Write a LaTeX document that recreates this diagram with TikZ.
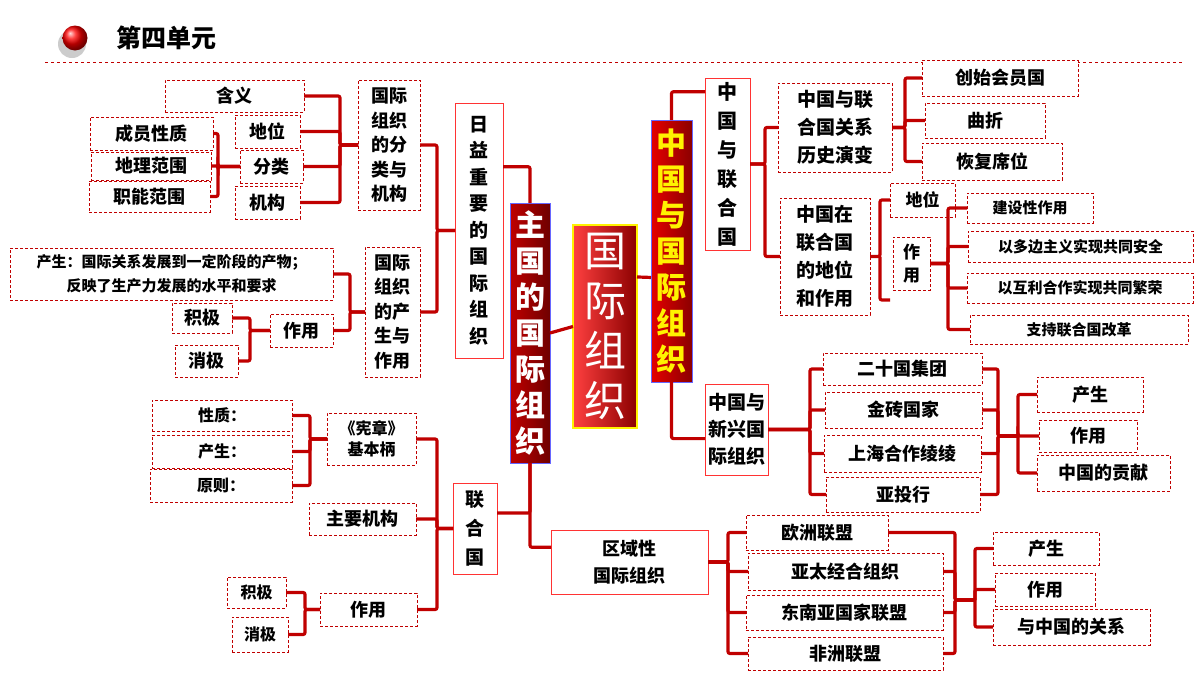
\documentclass[tikz,border=0pt]{standalone}
\usepackage{fontspec}
\setmainfont{Noto Sans CJK SC}
\usetikzlibrary{calc,shadows}
\definecolor{lr}{HTML}{C00000}
\definecolor{dr}{HTML}{8B0000}
\tikzset{
 db/.style={draw=lr,densely dashed,line width=0.7pt,fill=white,inner sep=0pt,outer sep=0pt,align=center,font=\bfseries\fontsize{18}{22}\selectfont},
 sb/.style={draw=red!80,line width=1pt,fill=white,inner sep=0pt,outer sep=0pt,align=center,font=\bfseries\fontsize{18}{22}\selectfont},
 conn/.style={draw=lr,line width=3.2pt,rounded corners=2pt},
}
\newcommand\B[7][db]{\node[#1,minimum width={#5-#3},minimum height={#6-#4}] (#2) at ({(#3+#5)/2},{(#4+#6)/2}) {#7};}
\newcommand\brL[3]{\foreach \ch in {#3}{\draw[conn] (\ch.east) -| ([xshift=-#2]#1.west) -- (#1.west);}}
\newcommand\brR[3]{\foreach \ch in {#3}{\draw[conn] (#1.east) -- ([xshift=#2]#1.east) |- (\ch.west);}}
\newcommand\fs[2]{\fontsize{#1}{#2}\selectfont}
\begin{document}
\begin{tikzpicture}[x=1pt,y=-1pt]
\useasboundingbox[fill=white] (0,0) rectangle (1200,675);
% title
\fill[gray!40] (72,44) circle (14);
\shade[ball color=red] (75,38) circle (12.5);
\node[font=\bfseries\fs{25}{27},anchor=west] (title) at (113,38) {第四单元};
\coordinate (dl1) at (45,62); \coordinate (dl2) at (1182,62);
\draw[lr,dashed,line width=0.7pt] (dl1) -- (dl2);

% center
\B[sb,draw=yellow,line width=2.5pt,left color=red!75,right color=dr,text=white,font=\fs{42}{50}]{gj}{573}{225}{637}{428}{国\\际\\组\\织}
\B[sb,draw=blue!60,line width=1pt,left color=lr,right color=dr!80!black,text=white,font=\bfseries\fs{30}{36}]{zg}{510}{203}{550}{463}{主\\国\\的\\国\\际\\组\\织}
\B[sb,draw=blue!60,line width=1pt,left color=red!90!black,right color=dr,text=yellow,font=\bfseries\fs{30}{36}]{zgi}{651}{120}{692}{382}{中\\国\\与\\国\\际\\组\\织}

% left top
\B[sb,font=\bfseries\fs{19}{26.5}]{ry}{455}{103}{503}{358}{日\\益\\重\\要\\的\\国\\际\\组\\织}
\B[db,font=\bfseries\fs{18}{24.5}]{fl}{358}{80}{420}{210}{国际\\组织\\的分\\类与\\机构}
\B[db,font=\bfseries\fs{18}{24.5}]{cs}{365}{247}{420}{377}{国际\\组织\\的产\\生与\\作用}
\B{hy}{165}{80}{304}{112}{含义}
\B{dw}{235}{115}{300}{148}{地位}
\B{fc}{240}{150}{303}{183}{分类}
\B{jg}{235}{186}{300}{219}{机构}
\B{cy}{90}{117}{213}{150}{成员性质}
\B{dl}{91}{152}{211}{180}{地理范围}
\B{zn}{89}{181}{210}{212}{职能范围}
\B[db,font=\bfseries\fs{15}{24}]{csx}{10}{248}{333}{300}{产生：国际关系发展到一定阶段的产物；\\反映了生产力发展的水平和要求}
\B{jj1}{172}{303}{232}{333}{积极}
\B{xj1}{175}{345}{238}{377}{消极}
\B{zy1}{270}{314}{333}{347}{作用}

% left bottom
\B[sb,font=\bfseries\fs{19}{29}]{lhg}{453}{483}{497}{574}{联\\合\\国}
\B[db,font=\bfseries\fs{16}{21}]{xz}{327}{413}{416}{465}{《宪章》\\基本柄}
\B[db,font=\bfseries\fs{16}{20}]{xzh}{152}{400}{292}{431}{性质：}
\B[db,font=\bfseries\fs{16}{20}]{csh}{152}{435}{292}{468}{产生：}
\B[db,font=\bfseries\fs{16}{20}]{yz}{150}{469}{292}{502}{原则：}
\B{zyjg}{309}{503}{416}{535}{主要机构}
\B{zy2}{320}{593}{417}{626}{作用}
\B[db,font=\bfseries\fs{16}{20}]{jj2}{227}{577}{286}{608}{积极}
\B[db,font=\bfseries\fs{16}{20}]{xj2}{232}{617}{288}{652}{消极}

% bottom middle
\B[sb,font=\bfseries\fs{18}{27}]{qy}{551}{530}{708}{594}{区域性\\国际组织}
\B{eu}{746}{515}{888}{550}{欧洲联盟}
\B{ap}{748}{553}{943}{590}{亚太经合组织}
\B{as}{746}{595}{943}{630}{东南亚国家联盟}
\B{af}{748}{637}{943}{670}{非洲联盟}
\B{q1}{993}{532}{1099}{565}{产生}
\B{q2}{995}{573}{1095}{606}{作用}
\B{q3}{993}{609}{1150}{645}{与中国的关系}

% right top
\B[sb,font=\bfseries\fs{20}{29}]{zl}{705}{78}{750}{250}{中\\国\\与\\联\\合\\国}
\B[db,font=\bfseries\fs{19}{28}]{ls}{778}{83}{892}{172}{中国与联\\合国关系\\历史演变}
\B{h1}{922}{60}{1078}{96}{创始会员国}
\B{h2}{925}{103}{1045}{138}{曲折}
\B{h3}{922}{143}{1062}{180}{恢复席位}
\B[db,font=\bfseries\fs{19}{28}]{dz}{780}{198}{870}{315}{中国在\\联合国\\的地位\\和作用}
\B[db,font=\bfseries\fs{17}{20}]{dw2}{890}{183}{955}{217}{地位}
\B[db,font=\bfseries\fs{17}{23}]{zy3}{893}{237}{930}{290}{作\\用}
\B[db,font=\bfseries\fs{15}{18}]{r1}{967}{193}{1093}{223}{建设性作用}
\B[db,font=\bfseries\fs{15}{18}]{r2}{968}{231}{1193}{262}{以多边主义实现共同安全}
\B[db,font=\bfseries\fs{15}{18}]{r3}{967}{273}{1193}{303}{以互利合作实现共同繁荣}
\B[db,font=\bfseries\fs{15}{18}]{r4}{970}{315}{1188}{344}{支持联合国改革}

% right middle
\B[sb,font=\bfseries\fs{19}{27}]{xx}{705}{384}{768}{475}{中国与\\新兴国\\际组织}
\B{g1}{823}{353}{982}{385}{二十国集团}
\B{g2}{825}{392}{982}{428}{金砖国家}
\B{g3}{824}{435}{981}{472}{上海合作绫绫}
\B{g4}{826}{477}{980}{512}{亚投行}
\B{s1}{1037}{377}{1143}{412}{产生}
\B{s2}{1039}{420}{1137}{452}{作用}
\B{s3}{1037}{455}{1170}{491}{中国的贡献}

% connectors
\brL{fl}{18pt}{hy,dw,fc,jg}
\brL{fc}{22pt}{cy,dl,zn}
\brR{fl}{17pt}{ry}
\brR{cs}{17pt}{ry}
\brL{cs}{15pt}{csx,zy1}
\brL{zy1}{20pt}{jj1,xj1}
\draw[conn] ($(ry.north east)!0.25!(ry.south east)$) -| (zg.north);
\draw[conn] (zg.east) -- (gj.west);
\draw[conn] ($(gj.north east)!0.256!(gj.south east)$) -- ($(zgi.north west)!0.601!(zgi.south west)$);
\draw[conn] (zgi.north) |- ($(zl.north west)!0.08!(zl.south west)$);
\draw[conn] (zgi.south) |- ($(xx.north west)!0.6!(xx.south west)$);
\draw[conn] (zg.south) |- ($(qy.north west)!0.27!(qy.south west)$);
\draw[conn] ($(lhg.north east)!0.33!(lhg.south east)$) -| (zg.south);
\brL{lhg}{16pt}{xz,zyjg,zy2}
\brL{xz}{17pt}{xzh,csh,yz}
\brL{zy2}{15pt}{jj2,xj2}
\brR{qy}{20pt}{eu,ap,as,af}
\coordinate (m1) at (955,600); \coordinate (m2) at (975,600);
\foreach \ch in {eu,ap,as,af}{\draw[conn] (\ch.east) -| (m1) -- (m2);}
\foreach \ch in {q1,q2,q3}{\draw[conn] (m2) |- (\ch.west);}
\brR{zl}{15pt}{ls,dz}
\brR{ls}{13pt}{h1,h2,h3}
\coordinate (tk) at (890,300);
\draw[conn] (dz.east) -- ([xshift=10pt]dz.east) |- (dw2.west);
\draw[conn] ([xshift=10pt]dz.east) |- (tk);
\brR{zy3}{18pt}{r1,r2,r3,r4}
\brR{xx}{42pt}{g1,g2,g3,g4}
\coordinate (n1) at (998,436); \coordinate (n2) at (1018,436);
\foreach \ch in {g1,g2,g3,g4}{\draw[conn] (\ch.east) -| (n1) -- (n2);}
\foreach \ch in {s1,s2,s3}{\draw[conn] (n2) |- (\ch.west);}
\end{tikzpicture}
\end{document}
